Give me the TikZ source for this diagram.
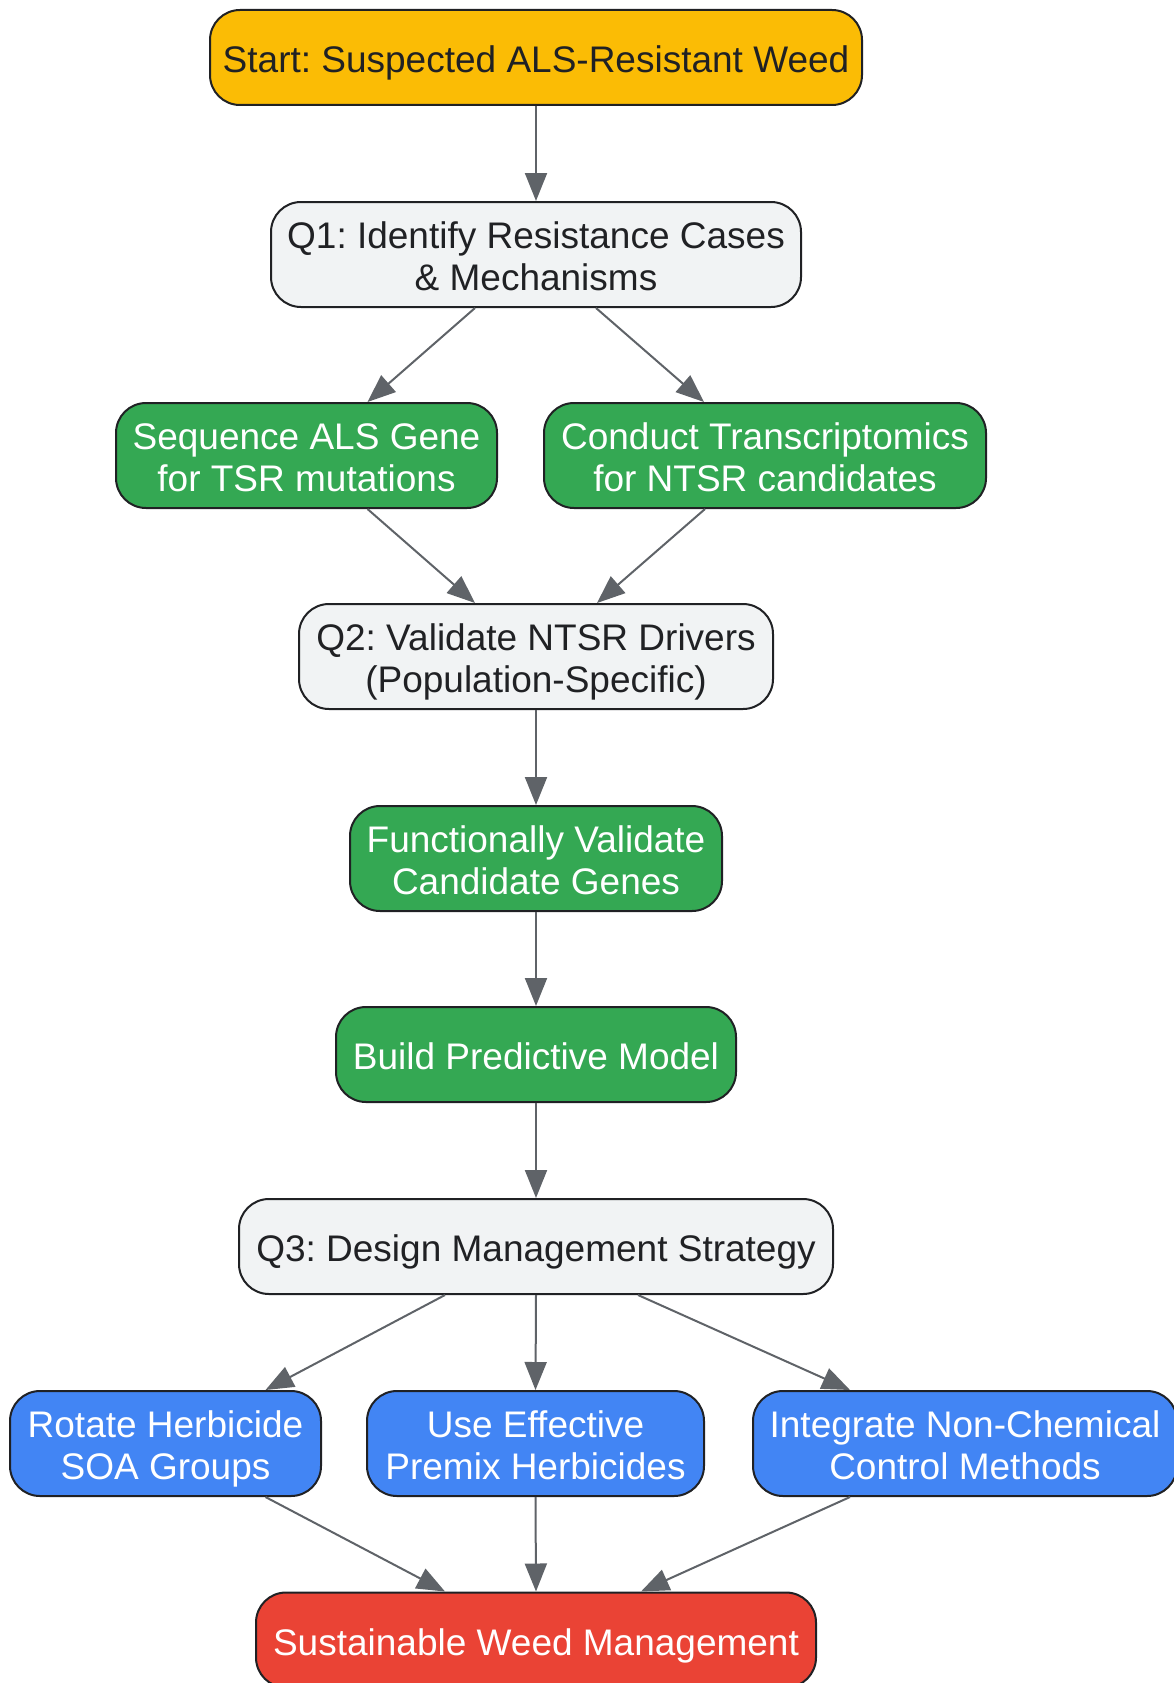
\documentclass[tikz,border=0pt]{standalone}
\usepackage{fontspec}
\setmainfont{Liberation Sans}
\usetikzlibrary{arrows.meta}
\definecolor{bordc}{HTML}{202124}
\definecolor{arrc}{HTML}{5F6368}
\definecolor{cyel}{HTML}{FBBC05}
\definecolor{cgry}{HTML}{F1F3F4}
\definecolor{cgrn}{HTML}{34A853}
\definecolor{cblu}{HTML}{4285F4}
\definecolor{cred}{HTML}{EA4335}
\newcommand\mytop{\rule{0pt}{40pt}}
\newcommand\mybot{\rule[-10pt]{0pt}{10pt}}
\frenchspacing
\begin{document}
\begin{tikzpicture}[x=1pt,y=-1pt,
  box/.style={draw=bordc, line width=2pt, rounded corners=30pt, align=center,
    font=\fontsize{37}{42}\selectfont, inner sep=0pt},
  ystart/.style={box, fill=cyel, text=bordc},
  qbox/.style={box, fill=cgry, text=bordc},
  gbox/.style={box, fill=cgrn, text=white},
  bbox/.style={box, fill=cblu, text=white},
  rbox/.style={box, fill=cred, text=white},
  arr/.style={draw=arrc, line width=2pt, -{Triangle[length=28pt,width=22pt]}}]
\useasboundingbox (0,0) rectangle (1174,1683);
\node[ystart, minimum width=652pt, minimum height=95pt] (start) at (536,57.5) {\mytop Start: Suspected ALS-Resistant Weed\mybot};
\node[qbox, minimum width=530pt, minimum height=105pt] (q1) at (536,254.5) {\mytop Q1: Identify Resistance Cases\\ \& Mechanisms\mybot};
\node[gbox, minimum width=381pt, minimum height=105pt] (seq) at (306.5,455.5) {\mytop Sequence ALS Gene\\for TSR mutations\mybot};
\node[gbox, minimum width=442pt, minimum height=105pt] (con) at (765,455.5) {\mytop Conduct Transcriptomics\\for NTSR candidates\mybot};
\node[qbox, minimum width=474pt, minimum height=105pt] (q2) at (536,656.5) {\mytop Q2: Validate NTSR Drivers\\(Population-Specific)\mybot};
\node[gbox, minimum width=372pt, minimum height=105pt] (fun) at (536,858.5) {\mytop Functionally Validate\\Candidate Genes\mybot};
\node[gbox, minimum width=400pt, minimum height=95pt] (bld) at (536,1054.5) {\mytop Build Predictive Model\mybot};
\node[qbox, minimum width=594pt, minimum height=95pt] (q3) at (536,1246.5) {\mytop Q3: Design Management Strategy\mybot};
\node[bbox, minimum width=311pt, minimum height=105pt] (rot) at (165.5,1443.5) {\mytop Rotate Herbicide\\SOA Groups\mybot};
\node[bbox, minimum width=337pt, minimum height=105pt] (use) at (535.5,1443.5) {\mytop Use Effective\\Premix Herbicides\mybot};
\node[bbox, minimum width=424pt, minimum height=105pt] (int) at (965,1443.5) {\mytop Integrate Non-Chemical\\Control Methods\mybot};
\node[rbox, minimum width=560pt, minimum height=95pt] (sus) at (536,1640) {\mytop Sustainable Weed Management\mybot};

\draw[arr] (start.south) -- (q1.north);
\draw[arr] ([xshift=-61pt]q1.south) -- ([xshift=61pt]seq.north);
\draw[arr] ([xshift=60pt]q1.south) -- ([xshift=-61pt]con.north);
\draw[arr] ([xshift=61pt]seq.south) -- ([xshift=-61pt]q2.north);
\draw[arr] ([xshift=-60pt]con.south) -- ([xshift=61pt]q2.north);
\draw[arr] (q2.south) -- (fun.north);
\draw[arr] (fun.south) -- (bld.north);
\draw[arr] (bld.south) -- (q3.north);
\draw[arr] ([xshift=-91pt]q3.south) -- ([xshift=100pt]rot.north);
\draw[arr] (q3.south) -- (use.north);
\draw[arr] ([xshift=102pt]q3.south) -- ([xshift=-115pt]int.north);
\draw[arr] ([xshift=100pt]rot.south) -- ([xshift=-91pt]sus.north);
\draw[arr] (use.south) -- (sus.north);
\draw[arr] ([xshift=-115pt]int.south) -- ([xshift=105pt]sus.north);
\end{tikzpicture}
\end{document}
